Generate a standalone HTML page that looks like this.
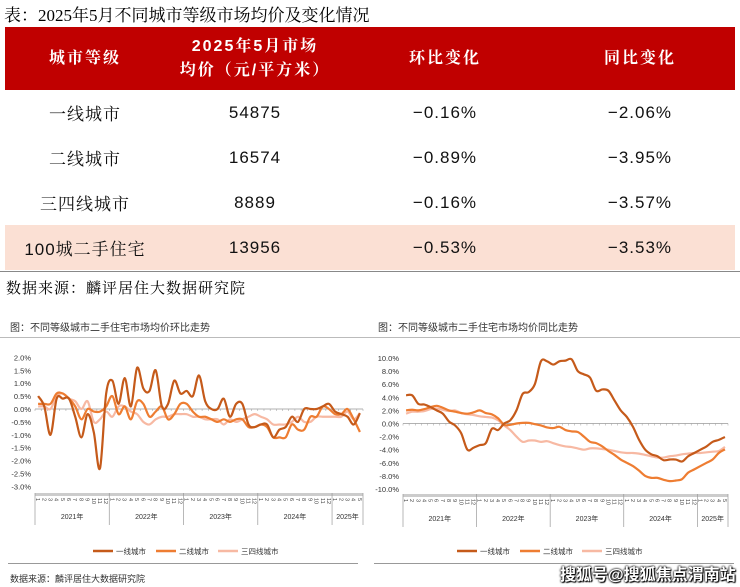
<!DOCTYPE html>
<html><head><meta charset="utf-8"><style>
body{margin:0;width:740px;height:587px;background:#fff;overflow:hidden;font-family:"Liberation Sans","Noto Sans CJK SC",sans-serif;position:relative}
.t{position:absolute;white-space:nowrap}
table{position:absolute;left:5px;top:27px;width:730px;border-collapse:collapse;font-family:"Liberation Sans","Noto Serif CJK SC",serif}
td{text-align:center;font-size:17px;color:#111;height:45px;padding:0;letter-spacing:1px}
tr.h td{background:#c00000;color:#fff;font-weight:bold;height:63px;line-height:24px;font-size:16px;letter-spacing:2px}
tr.p td{background:#fbe0d4}
</style></head><body>
<div class="t" style="left:4px;top:1px;font-size:17px;font-family:'Liberation Serif','Noto Serif CJK SC',serif">表：2025年5月不同城市等级市场均价及变化情况</div>
<table>
<tr class="h"><td style="width:160px">城市等级</td><td style="width:180px">2025年5月市场<br>均价（元/平方米）</td><td style="width:200px">环比变化</td><td>同比变化</td></tr>
<tr><td>一线城市</td><td>54875</td><td>−0.16%</td><td>−2.06%</td></tr>
<tr><td>二线城市</td><td>16574</td><td>−0.89%</td><td>−3.95%</td></tr>
<tr><td>三四线城市</td><td>8889</td><td>−0.16%</td><td>−3.57%</td></tr>
<tr class="p"><td>100城二手住宅</td><td>13956</td><td>−0.53%</td><td>−3.53%</td></tr>
</table>
<div style="position:absolute;left:0;top:271px;width:740px;border-top:1px solid #888"></div>
<div class="t" style="left:6px;top:277px;font-size:15px;letter-spacing:1px;font-family:'Liberation Serif','Noto Serif CJK SC',serif">数据来源：麟评居住大数据研究院</div>
<div style="position:absolute;left:0;top:337px;width:740px;border-top:1px solid #bbb"></div>
<div class="t" style="left:10px;top:319px;font-size:10px;color:#333">图：不同等级城市二手住宅市场均价环比走势</div>
<div class="t" style="left:378px;top:319px;font-size:10px;color:#333">图：不同等级城市二手住宅市场均价同比走势</div>
<div style="position:absolute;left:8px;top:563px;width:350px;border-top:1px solid #999"></div>
<div style="position:absolute;left:374px;top:563px;width:360px;border-top:1px solid #999"></div>
<div class="t" style="left:10px;top:572px;font-size:9px;color:#333">数据来源：麟评居住大数据研究院</div>
<svg id="s" width="740" height="587" style="position:absolute;left:0;top:0"></svg>
<div class="t" style="left:560px;top:561px;font-size:16px;font-weight:bold;color:#fff;text-shadow:0 0 2px #000,0 0 2px #000,1px 1px 1px #000">搜狐号@搜狐焦点渭南站</div>
<script>
var L1=[0.5,0.1,-1.0,0.4,0.4,0.4,-0.3,-1.1,-0.2,-0.9,-2.3,0.6,1.1,0.2,1.2,0.1,1.6,0.8,0.7,1.5,0.1,0.2,1.1,0.6,0.7,0.5,1.3,0.3,0.0,0.0,0.4,-0.3,0.2,0.2,-0.6,-0.7,-0.6,-0.6,-1.1,-0.8,-0.7,-0.3,-0.5,0.0,0.0,0.0,0.1,0.2,-0.1,-0.2,-0.3,-0.6,-0.16];
var L2=[0.2,0.2,0.2,0.6,0.6,0.4,0.1,-0.4,0.0,-0.1,-0.1,0.1,0.5,-0.2,0.1,-0.4,0.3,0.2,-0.3,-0.1,0.1,-0.4,-0.2,0.2,0.2,-0.1,-0.3,-0.3,-0.4,-0.5,-0.4,-0.5,-0.4,-0.4,-0.7,-0.7,-0.6,-0.7,-1.1,-1.1,-1.1,-0.6,-0.8,-0.8,-0.3,-0.3,0.1,0.0,-0.2,-0.2,0.0,-0.4,-0.89];
var L3=[0.1,0.1,0.0,0.5,0.6,0.4,0.3,0.0,0.3,-0.5,-0.4,-0.1,-0.3,0.1,0.1,-0.1,-0.2,-0.5,-0.6,-0.4,-0.3,-0.3,-0.2,-0.2,-0.2,-0.3,-0.3,-0.4,-0.4,-0.4,-0.6,-0.4,-0.5,-0.4,-0.3,-0.2,-0.3,-0.4,-0.6,-0.6,-0.6,-0.5,-0.3,-0.5,-0.5,-0.3,-0.3,-0.3,-0.3,-0.3,-0.1,-0.4,-0.16];
var R1=[4.3,4.3,3.0,2.9,2.5,2.0,1.5,0.3,-0.3,-1.5,-4.0,-3.7,-3.3,-3.0,-0.8,-1.0,0.0,0.5,2.0,4.5,4.8,6.0,9.5,9.5,9.0,9.5,9.6,9.8,8.0,7.5,7.0,5.0,5.2,5.0,3.5,2.0,1.0,-0.5,-2.5,-4.0,-4.7,-5.0,-5.6,-5.5,-5.5,-5.8,-5.0,-4.5,-4.0,-3.5,-2.8,-2.5,-2.06];
var R2=[2.0,2.1,2.0,2.2,2.5,2.7,2.4,2.0,1.8,1.6,1.5,1.7,2.0,1.6,1.4,0.8,-0.2,-0.2,0.0,0.1,0.1,-0.1,-0.3,-0.6,-0.7,-0.5,-1.0,-1.2,-1.3,-2.0,-2.8,-3.0,-3.5,-4.2,-4.8,-5.5,-6.0,-6.5,-7.2,-8.0,-8.3,-8.3,-8.6,-8.8,-8.7,-8.5,-7.5,-7.0,-6.5,-6.0,-5.5,-4.5,-3.95];
var R3=[1.5,1.8,1.8,1.9,2.2,2.3,2.1,1.9,2.0,1.6,1.4,1.3,1.1,1.0,0.9,0.5,-0.3,-1.0,-2.0,-2.8,-2.6,-2.6,-2.8,-2.7,-3.0,-3.3,-3.5,-3.6,-3.8,-4.0,-3.8,-3.8,-3.9,-4.0,-4.2,-4.4,-4.5,-4.5,-4.6,-4.8,-5.0,-5.2,-5.2,-5.0,-4.9,-4.7,-4.6,-4.5,-4.5,-4.4,-4.3,-4.2,-3.57];
var h='';
function path(d,x0,dx,y0,k,c){var p=d.map(function(v,i){return [x0+dx*(i+0.5),y0-v*k]});var s='M'+p[0][0]+','+p[0][1];
for(var i=0;i<p.length-1;i++){var a=p[i-1]||p[i],b=p[i],c2=p[i+1],e=p[i+2]||c2;
s+=' C'+(b[0]+(c2[0]-a[0])/6)+','+(b[1]+(c2[1]-a[1])/6)+' '+(c2[0]-(e[0]-b[0])/6)+','+(c2[1]-(e[1]-b[1])/6)+' '+c2[0]+','+c2[1];}
h+='<path d="'+s+'" fill="none" stroke="'+c+'" stroke-width="2.2" stroke-linejoin="round"/>';}
function chart(x0,x1,y0,k,ticks,fmt,A,B,C,by,ye){
var dx=(x1-x0)/53;
ticks.forEach(function(v){h+='<text x="'+(x0-4)+'" y="'+(y0-v*k+3)+'" font-size="7.5" text-anchor="end" fill="#333">'+fmt(v)+'</text>';});
h+='<line x1="'+x0+'" x2="'+x1+'" y1="'+y0+'" y2="'+y0+'" stroke="#999" stroke-width="0.8"/>';
for(var i=0;i<=53;i++)h+='<line x1="'+(x0+dx*i)+'" x2="'+(x0+dx*i)+'" y1="'+y0+'" y2="'+(y0+2)+'" stroke="#999" stroke-width="0.5"/>';
h+='<rect x="'+x0+'" y="'+by+'" width="'+(x1-x0)+'" height="3" fill="#ccc"/>';
var yrs=['2021年','2022年','2023年','2024年','2025年'];
for(var i=0;i<53;i++){var m=(i%12)+1;h+='<text transform="translate('+(x0+dx*(i+0.5)-2)+','+(by+5)+') rotate(90)" font-size="5.5" fill="#444">'+m+'</text>';}
for(var j=0;j<=5;j++){var x=x0+dx*Math.min(j*12,53);h+='<line x1="'+x+'" x2="'+x+'" y1="'+by+'" y2="'+ye+'" stroke="#999" stroke-width="0.7"/>';}
for(var j=0;j<5;j++){var xa=x0+dx*j*12,xb=x0+dx*Math.min(j*12+12,53);h+='<text x="'+((xa+xb)/2)+'" y="'+(ye-6)+'" font-size="7" text-anchor="middle" fill="#333">'+yrs[j]+'</text>';}
path(C,x0,dx,y0,k,'#f7b9a3');path(B,x0,dx,y0,k,'#ee7d32');path(A,x0,dx,y0,k,'#c55a1a');
}
chart(35,363,409,25.8,[2,1.5,1,0.5,0,-0.5,-1,-1.5,-2,-2.5,-3],function(v){return v.toFixed(1)+'%'},L1,L2,L3,493,525);
chart(403,728,423.5,6.55,[10,8,6,4,2,0,-2,-4,-6,-8,-10],function(v){return v.toFixed(1)+'%'},R1,R2,R3,494,527);
function leg(x,y){var n=['一线城市','二线城市','三四线城市'],c=['#c55a1a','#ee7d32','#f7b9a3'],o=[0,63,125];
for(var i=0;i<3;i++){h+='<line x1="'+(x+o[i])+'" x2="'+(x+o[i]+20)+'" y1="'+y+'" y2="'+y+'" stroke="'+c[i]+'" stroke-width="2.5"/><text x="'+(x+o[i]+23)+'" y="'+(y+3)+'" font-size="7.5" fill="#333">'+n[i]+'</text>';}}
leg(93,551);leg(457,551);
document.getElementById('s').innerHTML=h;
</script>
</body></html>
